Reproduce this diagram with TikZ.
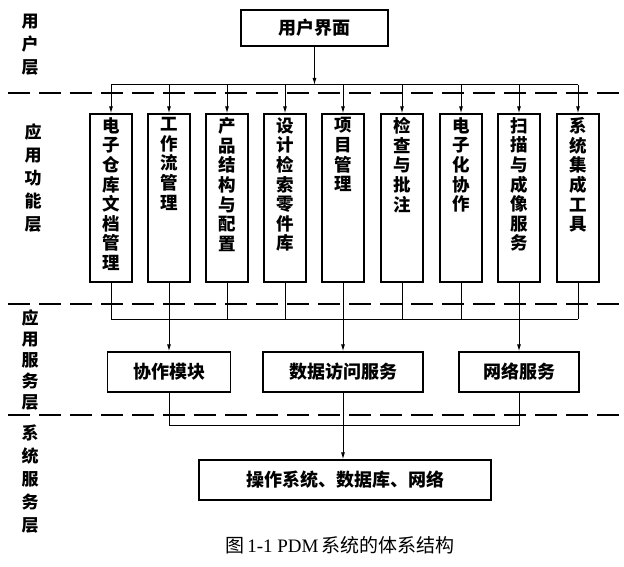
\documentclass[tikz,border=0pt]{standalone}
\usepackage{fontspec}
\setmainfont{Noto Sans CJK SC}
\newfontfamily\capserif{Liberation Serif}
\usetikzlibrary{arrows.meta}

\begin{document}
\begin{tikzpicture}[x=1pt,y=-1pt,
    box/.style={draw, line width=1.3pt, inner sep=0pt, font=\fontsize{18}{20}\selectfont\bfseries},
    funcbox/.style={box, minimum width=42pt, minimum height=168pt},
    functext/.style={align=center, inner sep=0pt, font=\fontsize{17.5}{19.6}\selectfont\bfseries},
    vlabel/.style={align=center, inner sep=0pt, font=\fontsize{17}{23}\selectfont\bfseries},
    layerline/.style={line width=2.2pt, dash pattern=on 22pt off 9pt},
    conn/.style={line width=1pt},
    arr/.style={conn, -{Latex[length=7pt,width=4pt]}}]
    \useasboundingbox (0,0) rectangle (624,567);

    % User layer
    \node[box, minimum width=147pt, minimum height=36pt] (ui) at (314.5,28) {用户界面};

    % Application function layer
    \foreach \i/\x/\t in {1/111/{电\\子\\仓\\库\\文\\档\\管\\理},
                          2/169/{工\\作\\流\\管\\理},
                          3/227/{产\\品\\结\\构\\与\\配\\置},
                          4/285/{设\\计\\检\\索\\零\\件\\库},
                          5/343/{项\\目\\管\\理},
                          6/402/{检\\查\\与\\批\\注},
                          7/461/{电\\子\\化\\协\\作},
                          8/519/{扫\\描\\与\\成\\像\\服\\务},
                          9/578/{系\\统\\集\\成\\工\\具}} {
        \node[funcbox] (f\i) at (\x,198) {};
        \node[functext, anchor=north] (t\i) at ([yshift=-4pt]f\i.north) {\t};
    }

    % Application service layer
    \node[box, minimum width=123pt, minimum height=40pt] (s1) at (169,372) {协作模块};
    \node[box, minimum width=160pt, minimum height=40pt] (s2) at (343,372) {数据访问服务};
    \node[box, minimum width=120pt, minimum height=40pt] (s3) at (519,372) {网络服务};

    % System service layer
    \node[box, minimum width=292pt, minimum height=40pt] (os) at (345,480) {操作系统、数据库、网络};

    % Layer separators
    \coordinate (d1) at (8,93);
    \coordinate (d2) at (8,304);
    \coordinate (d3) at (8,415);
    \draw[layerline] (d1) -- ++(612,0);
    \draw[layerline] (d2) -- ++(612,0);
    \draw[layerline] (d3) -- ++(612,0);

    % Layer labels
    \node[vlabel] (l1) at (30,45) {用\\户\\层};
    \node[vlabel] (l2) at (33,178) {应\\用\\功\\能\\层};
    \node[vlabel, font=\fontsize{17}{21}\selectfont\bfseries] (l3) at (30,360) {应\\用\\服\\务\\层};
    \node[vlabel] (l4) at (30,479) {系\\统\\服\\务\\层};

    % Edges
    \coordinate (bus1) at (0,85);
    \coordinate (bus2) at (0,319);
    \coordinate (bus3) at (0,425);
    \draw[arr] (ui.south) -- (ui.south |- bus1);
    \draw[conn] (f1.north |- bus1) -- (f9.north |- bus1);
    \foreach \i in {1,...,9} {
        \draw[arr] (f\i.north |- bus1) -- (f\i.north);
        \draw[conn] (f\i.south) -- (f\i.south |- bus2);
    }
    \draw[conn] (f1.south |- bus2) -- (f9.south |- bus2);
    \draw[arr] (f2.south) -- (s1.north);
    \draw[arr] (f5.south) -- (s2.north);
    \draw[arr] (f8.south) -- (s3.north);
    \draw[conn] (s1.south) -- (s1.south |- bus3) -- (s3.south |- bus3) -- (s3.south);
    \draw[conn] (s2.south) -- (s2.south |- bus3);
    \draw[arr] (s2.south |- bus3) -- (s2.south |- os.north);

    % Caption
    \node[font=\fontsize{19}{22}\selectfont] (cap) at (340,545) {图\,{\capserif 1-1 PDM}\,系统的体系结构};
\end{tikzpicture}
\end{document}
